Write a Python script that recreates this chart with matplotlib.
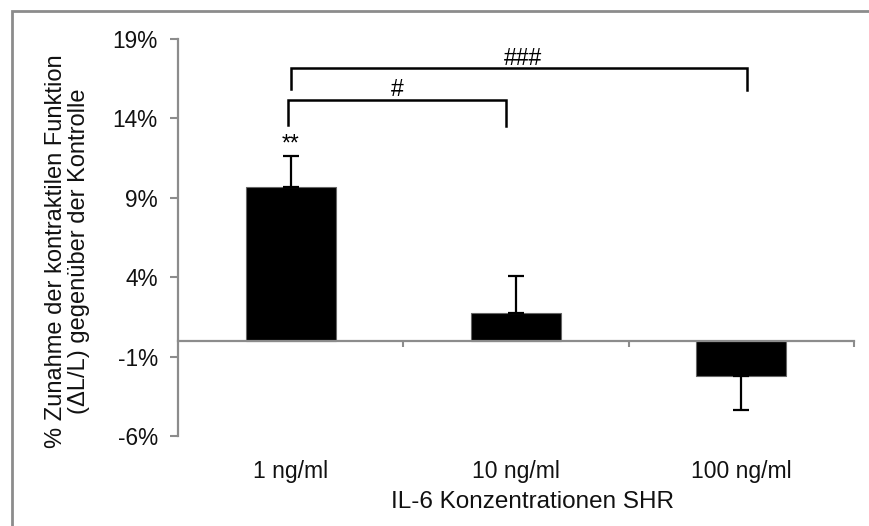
import numpy as np
import matplotlib
matplotlib.use("Agg")
import matplotlib.pyplot as plt
from matplotlib.patches import Rectangle

plt.rcParams['font.family'] = ['Liberation Sans', 'DejaVu Sans']

# Daten
kategorien = ["1 ng/ml", "10 ng/ml", "100 ng/ml"]
werte = [9.65, 1.74, -2.25]
fehler = [2.0, 2.35, 2.14]
y_ticks = [-6, -1, 4, 9, 14, 19]

# Signifikanzklammern: (von, bis, Hoehe, Text)
vergleiche = [(0, 1, 15.17, "#"), (0, 2, 17.16, "###")]
stern = "**"

grau = "#8c8c8c"

fig = plt.figure(figsize=(8.69, 5.26), dpi=100)
ax = fig.add_axes([178 / 869, 1 - 436 / 526, 676 / 869, 397.3 / 526])

x = np.arange(len(kategorien))
ax.bar(x, werte, width=0.4, color="black", edgecolor="#666666", linewidth=0.8, zorder=2)

# Fehlerbalken nur in Richtung des Balkens
for xi, w, e in zip(x, werte, fehler):
    yerr = [[0], [e]] if w >= 0 else [[e], [0]]
    ax.errorbar(xi, w, yerr=yerr, fmt="none", ecolor="black", elinewidth=1.6,
                capsize=5.6, capthick=1.6, zorder=3)

ax.set_ylim(-6, 19)
ax.set_xlim(-0.5, 2.5)
ax.set_yticks(y_ticks)
ax.set_yticklabels([f"{t}%" for t in y_ticks], fontsize=16.3, color="#111111")
ax.tick_params(axis="y", direction="out", length=5.5, width=1.5, color=grau, pad=9)

for s in ["top", "right"]:
    ax.spines[s].set_visible(False)
ax.spines["left"].set_color(grau)
ax.spines["left"].set_linewidth(1.6)
ax.spines["bottom"].set_position(("data", 0))
ax.spines["bottom"].set_color(grau)
ax.spines["bottom"].set_linewidth(1.6)
ax.set_xticks(x[:-1] + 0.5)
ax.set_xticks([2.5], minor=True)
ax.set_xticklabels([])
ax.tick_params(axis="x", which="both", direction="out", length=4.5, width=1.5, color=grau)

# Kategorienbeschriftungen unten
sec = ax.secondary_xaxis("bottom")
sec.set_xticks(x)
sec.set_xticklabels(kategorien, fontsize=16.5, color="#111111")
sec.tick_params(length=0, pad=17.5)
sec.spines["bottom"].set_visible(False)

ax.set_xlabel("IL-6 Konzentrationen SHR", fontsize=17.5, color="#111111")
ax.xaxis.set_label_coords(0.525, -0.166)
ax.xaxis.label.set_va("center")

ax.set_ylabel("% Zunahme der kontraktilen Funktion\n(ΔL/L) gegenüber der Kontrolle",
              fontsize=17, linespacing=1.1, color="#111111")
ax.yaxis.set_label_coords(-0.1635, 0.464)
ax.yaxis.label.set_va("center")

# Klammern
rechts = {1: 0.956, 2: 2.024}
links = {1: -0.011, 2: 0.0}
beine = {1: 1.57, 2: 1.3}
textx = {1: 0.473, 2: 1.032}
for a, b, h, txt in vergleiche:
    ax.plot([links[b], links[b], rechts[b], rechts[b]],
            [h - beine[b], h, h, h - beine[b] - 0.1], color="black", lw=1.8,
            solid_joinstyle="miter", clip_on=False)
    ax.text(textx[b], h + 0.2, txt, ha="center", va="baseline", fontsize=16.5)
ax.text(0, werte[0] + fehler[0] + 0.3, stern, ha="center", va="baseline", fontsize=16.5)

# Rahmen um die Grafik
fig.patches.append(Rectangle((12 / 869, -0.1), 1.2, 1 - 11 / 526 + 0.1,
                             transform=fig.transFigure, fill=False,
                             edgecolor=grau, linewidth=2))

fig.savefig("out.png", dpi=100)
